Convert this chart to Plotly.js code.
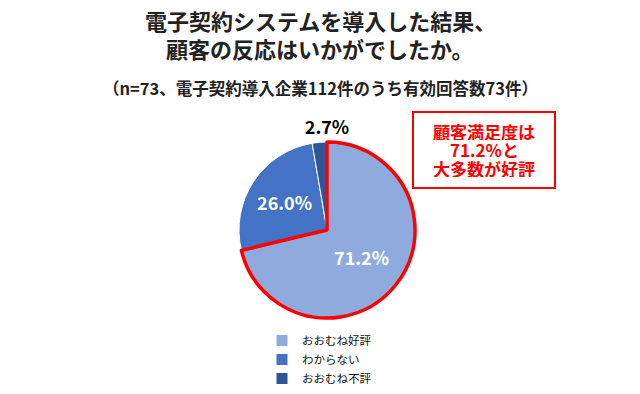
<!DOCTYPE html>
<html><head><meta charset="utf-8">
<script src="https://cdn.plot.ly/plotly-3.0.1.min.js"></script>
<style>html,body{margin:0;padding:0;background:#fff}</style>
</head><body>
<div id="chart" style="width:640px;height:394px"></div>
<script>
const categories = ["おおむね好評", "わからない", "おおむね不評"];
const values = [71.2, 26.0, 2.7];
const sliceColors = ["#8FAADC", "#4472C4", "#2F5597"];
const highlightLine = ["#FF0000", "rgba(0,0,0,0)", "rgba(0,0,0,0)"];
const titleLines = ["電子契約システムを導入した結果、", "顧客の反応はいかがでしたか。"];
const subtitleText = "（n=73、電子契約導入企業112件のうち有効回答数73件）";
const calloutLines = ["顧客満足度は", "71.2%と", "大多数が好評"];

const FONT = '"Noto Sans CJK JP", "Noto Sans", sans-serif';
const W = 640, H = 394;
const cx = 327, cy = 230, r = 88, titleSpace = 26;
const dom = {
  x: [(cx - r) / W, (cx + r) / W],
  y: [1 - (cy + r) / H, 1 - (cy - r - titleSpace) / H]
};
const fmt = v => v.toFixed(1) + "%";

const pieMain = {
  type: "pie",
  labels: categories,
  values: values,
  sort: false,
  direction: "clockwise",
  rotation: 0,
  marker: { colors: sliceColors, line: { color: "#FFFFFF", width: 1 } },
  text: [fmt(values[0]), fmt(values[1]), ""],
  textinfo: "text",
  textposition: ["inside", "inside", "none"],
  insidetextfont: { family: FONT, size: 18, color: "#FFFFFF", weight: "bold" },
  insidetextorientation: "horizontal",
  title: {
    text: fmt(values[2]),
    position: "top center",
    font: { family: FONT, size: 18, color: "#000000", weight: "bold" }
  },
  hoverinfo: "skip",
  domain: dom,
  automargin: false
};

const pieOutline = {
  type: "pie",
  labels: categories,
  values: values,
  sort: false,
  direction: "clockwise",
  rotation: 0,
  marker: {
    colors: ["rgba(0,0,0,0)", "rgba(0,0,0,0)", "rgba(0,0,0,0)"],
    line: { color: highlightLine, width: [3.5, 0, 0] }
  },
  textinfo: "none",
  title: {
    text: fmt(values[2]),
    position: "top center",
    font: { family: FONT, size: 18, color: "rgba(0,0,0,0)", weight: "bold" }
  },
  hoverinfo: "skip",
  showlegend: false,
  domain: dom,
  automargin: false
};

const annotations = [];
titleLines.forEach((t, i) => annotations.push({
  text: t, xref: "paper", yref: "paper",
  x: 0.5, xanchor: "center",
  y: 1 - (20 + 28 * i) / H, yanchor: "middle",
  showarrow: false, height: 26, borderpad: 0,
  font: { family: FONT, size: 22, color: "#222222", weight: "bold" }
}));
annotations.push({
  text: subtitleText, xref: "paper", yref: "paper",
  x: 0.5, xanchor: "center",
  y: 1 - 88 / H, yanchor: "middle",
  showarrow: false,
  font: { family: FONT, size: 16.5, color: "#222222", weight: "bold" }
});
calloutLines.forEach((t, i) => annotations.push({
  text: t, xref: "paper", yref: "paper",
  x: 484 / W, xanchor: "center",
  y: 1 - (131.5 + 18.5 * i) / H, yanchor: "middle",
  showarrow: false, height: 17, borderpad: 0,
  font: { family: FONT, size: 17, color: "#FF0000", weight: "bold" }
}));

const layout = {
  width: W, height: H,
  margin: { l: 0, r: 0, t: 0, b: 0 },
  paper_bgcolor: "#FFFFFF",
  font: { family: FONT, color: "#000000" },
  showlegend: true,
  legend: {
    orientation: "v",
    x: 262 / W, xanchor: "left",
    y: 1 - 326 / H, yanchor: "top",
    font: { family: FONT, size: 11.5, color: "#111111" },
    traceorder: "normal",
    itemwidth: 30,
    bgcolor: "rgba(0,0,0,0)"
  },
  shapes: [{
    type: "rect", xref: "paper", yref: "paper",
    x0: 413 / W, x1: 555 / W, y0: 1 - 188 / H, y1: 1 - 112 / H,
    line: { color: "#FF0000", width: 2 }, fillcolor: "rgba(0,0,0,0)", layer: "above"
  }],
  annotations: annotations
};

Plotly.newPlot("chart", [pieMain, pieOutline], layout, { staticPlot: true, displayModeBar: false });
</script>
</body></html>
